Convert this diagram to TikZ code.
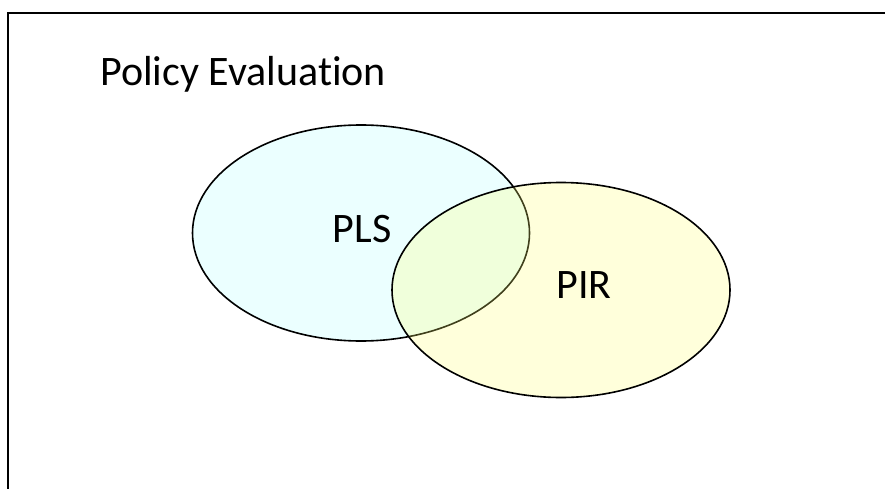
\documentclass[tikz,border=0pt]{standalone}
\usepackage{fontspec}
\setmainfont[Ligatures={NoCommon}]{Carlito}
\usetikzlibrary{shapes.geometric}
\definecolor{plsfill}{RGB}{235,255,255}
\definecolor{pirfill}{RGB}{255,255,115}
\tikzset{
  frame/.style={draw=black, line width=2.2pt},
  setshape/.style={ellipse, draw=black, line width=1.6pt, inner sep=0pt},
  lbl/.style={font=\fontsize{42}{50}\selectfont, inner sep=0pt, anchor=base}
}
\begin{document}
\begin{tikzpicture}[x=1pt,y=-1pt]
\useasboundingbox (0,0) rectangle (885,489);
\fill[white] (0,0) rectangle (885,489);
\draw[frame] (8,489) -- (8,13) -- (885,13);
\node[lbl, anchor=base west] (title) at (100,86) {Policy Evaluation};
\node[setshape, fill=plsfill, minimum width=337pt, minimum height=216pt] (pls) at (361,233) {};
\node[setshape, fill=pirfill, fill opacity=0.25, minimum width=338pt, minimum height=215pt] (pir) at (561,290) {};
\node[lbl] (plstext) at (362,242) {PLS};
\node[lbl] (pirtext) at (584,298) {PIR};
\end{tikzpicture}
\end{document}
